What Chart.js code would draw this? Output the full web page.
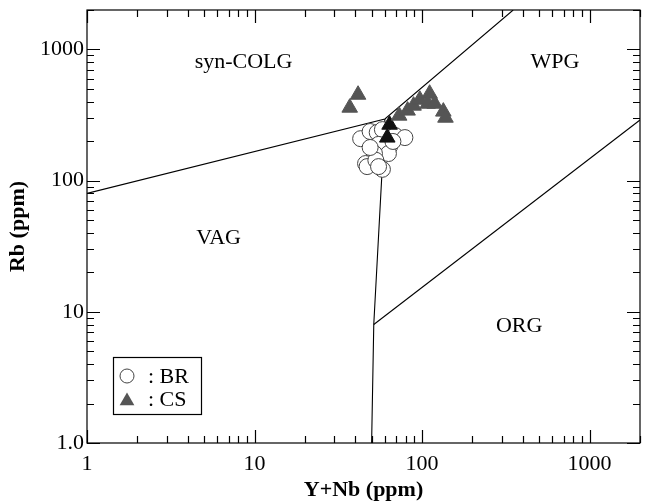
<!DOCTYPE html>
<html>
<head>
<meta charset="utf-8">
<script src="https://cdn.jsdelivr.net/npm/chart.js@4.4.1/dist/chart.umd.min.js"></script>
<style>
  html, body { margin: 0; padding: 0; background: #fff; }
</style>
</head>
<body>
<canvas id="c" width="650" height="502"></canvas>
<script>
// Sample BR: Y+Nb and Rb (ppm)
const brYNb = [43, 49, 54, 58, 69, 79, 64, 55, 63, 52, 46, 47, 53, 58, 55, 67, 49];
const brRb  = [209, 237, 233, 245, 221, 213, 182, 189, 161, 161, 135, 128, 143, 122, 128, 199, 179];

// Sample CS: Y+Nb and Rb (ppm); tone marks the two darker points
const csYNb = [37, 41.5, 64, 62, 73, 82, 89, 97, 111, 108, 119, 134, 138];
const csRb  = [360, 452, 267, 213, 313, 342, 373, 414, 460, 386, 386, 336, 302];
const csTone = ['g', 'g', 'k', 'k', 'g', 'g', 'g', 'g', 'g', 'g', 'g', 'g', 'g'];

// Field boundaries (Y+Nb, Rb)
const colgVagX = [1, 60, 350];
const colgVagY = [80, 295, 2000];
const vagOrgX  = [60, 51.5, 50];
const vagOrgY  = [295, 8, 1];
const wpgOrgX  = [51.5, 2000];
const wpgOrgY  = [8, 290];

// Field names and their anchors (Y+Nb, Rb)
const fieldNames = ['syn-COLG', 'WPG', 'VAG', 'ORG'];
const fieldX = [8.6, 622, 6.1, 380];
const fieldY = [804, 804, 36.5, 7.8];

// Labelled decades
const xTickLabels = ['1', '10', '100', '1000'];
const yTickLabels = ['1.0', '10', '100', '1000'];

const SERIF = '"Liberation Serif"';
const GRAY = '#555555';

const pts = (xs, ys) => xs.map((v, i) => ({ x: v, y: ys[i] }));
const decadeIndex = v => {
  const l = Math.log10(v);
  return Math.abs(l - Math.round(l)) < 1e-9 ? Math.round(l) : -1;
};

const lineSet = (xs, ys) => ({
  data: pts(xs, ys), showLine: true, pointRadius: 0, borderColor: '#000',
  borderWidth: 1.1, fill: false, order: 3
});

// Inward ticks on all four sides plus the frame
const frameTicks = {
  id: 'frameTicks',
  afterDraw(chart) {
    const { ctx, chartArea: a, scales: { x, y } } = chart;
    ctx.save();
    ctx.strokeStyle = '#000';
    ctx.lineWidth = 1.2;
    ctx.strokeRect(a.left, a.top, a.right - a.left, a.bottom - a.top);
    ctx.beginPath();
    for (let d = 0; d < 4; d++) {
      for (let m = 1; m <= 9; m++) {
        const v = m * Math.pow(10, d);
        const len = m === 1 ? 13 : 7;
        if (v <= 2000) {
          const px = Math.round(x.getPixelForValue(v)) + 0.5;
          ctx.moveTo(px, a.bottom); ctx.lineTo(px, a.bottom - len);
          ctx.moveTo(px, a.top); ctx.lineTo(px, a.top + len);
          const py = Math.round(y.getPixelForValue(v)) + 0.5;
          ctx.moveTo(a.left, py); ctx.lineTo(a.left + len, py);
          ctx.moveTo(a.right, py); ctx.lineTo(a.right - len, py);
        }
      }
    }
    ctx.stroke();
    ctx.restore();
  }
};

// Field names inside the plot
const fieldLabels = {
  id: 'fieldLabels',
  afterDatasetsDraw(chart) {
    const { ctx, scales: { x, y } } = chart;
    ctx.save();
    ctx.fillStyle = '#000';
    ctx.font = '22px ' + SERIF;
    ctx.textAlign = 'center';
    ctx.textBaseline = 'middle';
    fieldNames.forEach((t, i) => {
      ctx.fillText(t, x.getPixelForValue(fieldX[i]), y.getPixelForValue(fieldY[i]));
    });
    ctx.restore();
  }
};

// Boxed key in the lower left of the plot
const keyBox = {
  id: 'keyBox',
  afterDraw(chart) {
    const { ctx, chartArea: a } = chart;
    const left = a.left + 26, top = a.top + 347, w = 88, h = 57;
    ctx.save();
    ctx.fillStyle = '#fff';
    ctx.fillRect(left, top, w, h);
    ctx.strokeStyle = '#000';
    ctx.lineWidth = 1.2;
    ctx.strokeRect(left + 0.5, top + 0.5, w, h);
    const cx = left + 14;
    const r1 = top + 19, r2 = top + 44;
    ctx.beginPath();
    ctx.arc(cx, r1, 7, 0, Math.PI * 2);
    ctx.fillStyle = '#fff';
    ctx.fill();
    ctx.strokeStyle = '#444';
    ctx.lineWidth = 1;
    ctx.stroke();
    const tr = 8.5;
    ctx.beginPath();
    ctx.moveTo(cx, r2 - tr);
    ctx.lineTo(cx + tr * Math.sin(2 * Math.PI / 3), r2 + tr / 2);
    ctx.lineTo(cx - tr * Math.sin(2 * Math.PI / 3), r2 + tr / 2);
    ctx.closePath();
    ctx.fillStyle = GRAY;
    ctx.fill();
    ctx.fillStyle = '#000';
    ctx.font = '22px ' + SERIF;
    ctx.textAlign = 'left';
    ctx.textBaseline = 'middle';
    const ds = chart.data.datasets;
    ctx.fillText(': ' + ds[0].label, left + 35, r1 + 1);
    ctx.fillText(': ' + ds[1].label, left + 35, r2 - 1);
    ctx.restore();
  }
};

function build() {
  new Chart(document.getElementById('c'), {
    type: 'scatter',
    data: {
      datasets: [
        {
          label: 'BR', data: pts(brYNb, brRb), pointStyle: 'circle', pointRadius: 8,
          backgroundColor: '#fff', borderColor: '#444', borderWidth: 1, order: 2
        },
        {
          label: 'CS', data: pts(csYNb, csRb), pointStyle: 'triangle', pointRadius: 9,
          backgroundColor: csTone.map(t => t === 'k' ? '#111' : GRAY),
          borderColor: csTone.map(t => t === 'k' ? '#111' : GRAY),
          borderWidth: 1, order: 1
        },
        lineSet(colgVagX, colgVagY),
        lineSet(vagOrgX, vagOrgY),
        lineSet(wpgOrgX, wpgOrgY)
      ]
    },
    options: {
      responsive: false,
      animation: false,
      devicePixelRatio: 1,
      layout: { padding: { top: 8, right: 6, left: 0, bottom: 0 } },
      plugins: { legend: { display: false }, tooltip: { enabled: false } },
      scales: {
        x: {
          type: 'logarithmic', min: 1, max: 2000, position: 'bottom',
          grid: { display: false, drawTicks: false }, border: { display: false },
          ticks: {
            autoSkip: false, maxRotation: 0, padding: 8, color: '#000',
            font: { family: SERIF, size: 22 },
            callback: v => { const d = decadeIndex(v); return d >= 0 && d < 4 ? xTickLabels[d] : ''; }
          },
          title: {
            display: true, text: 'Y+Nb (ppm)', color: '#000',
            font: { family: SERIF, size: 22, weight: 'bold', lineHeight: 1.1 },
            padding: { top: 0, bottom: 0 }
          },
          afterFit(s) { s.height = 59; s.paddingLeft = 0; s.paddingRight = 0; }
        },
        y: {
          type: 'logarithmic', min: 1, max: 2000, position: 'left',
          grid: { display: false, drawTicks: false }, border: { display: false },
          ticks: {
            autoSkip: false, padding: 3, color: '#000',
            font: { family: SERIF, size: 22 },
            callback: v => { const d = decadeIndex(v); return d >= 0 && d < 4 ? yTickLabels[d] : ''; }
          },
          title: {
            display: true, text: 'Rb (ppm)', color: '#000',
            font: { family: SERIF, size: 22, weight: 'bold', lineHeight: 1.1 },
            padding: { top: 6, bottom: 0 }
          },
          afterFit(s) { s.width = 87; s.paddingTop = 0; s.paddingBottom = 0; }
        }
      }
    },
    plugins: [frameTicks, fieldLabels, keyBox]
  });
}

Promise.all([
  document.fonts.load('22px "Liberation Serif"'),
  document.fonts.load('bold 22px "Liberation Serif"')
]).catch(() => {}).then(build);
</script>
</body>
</html>
